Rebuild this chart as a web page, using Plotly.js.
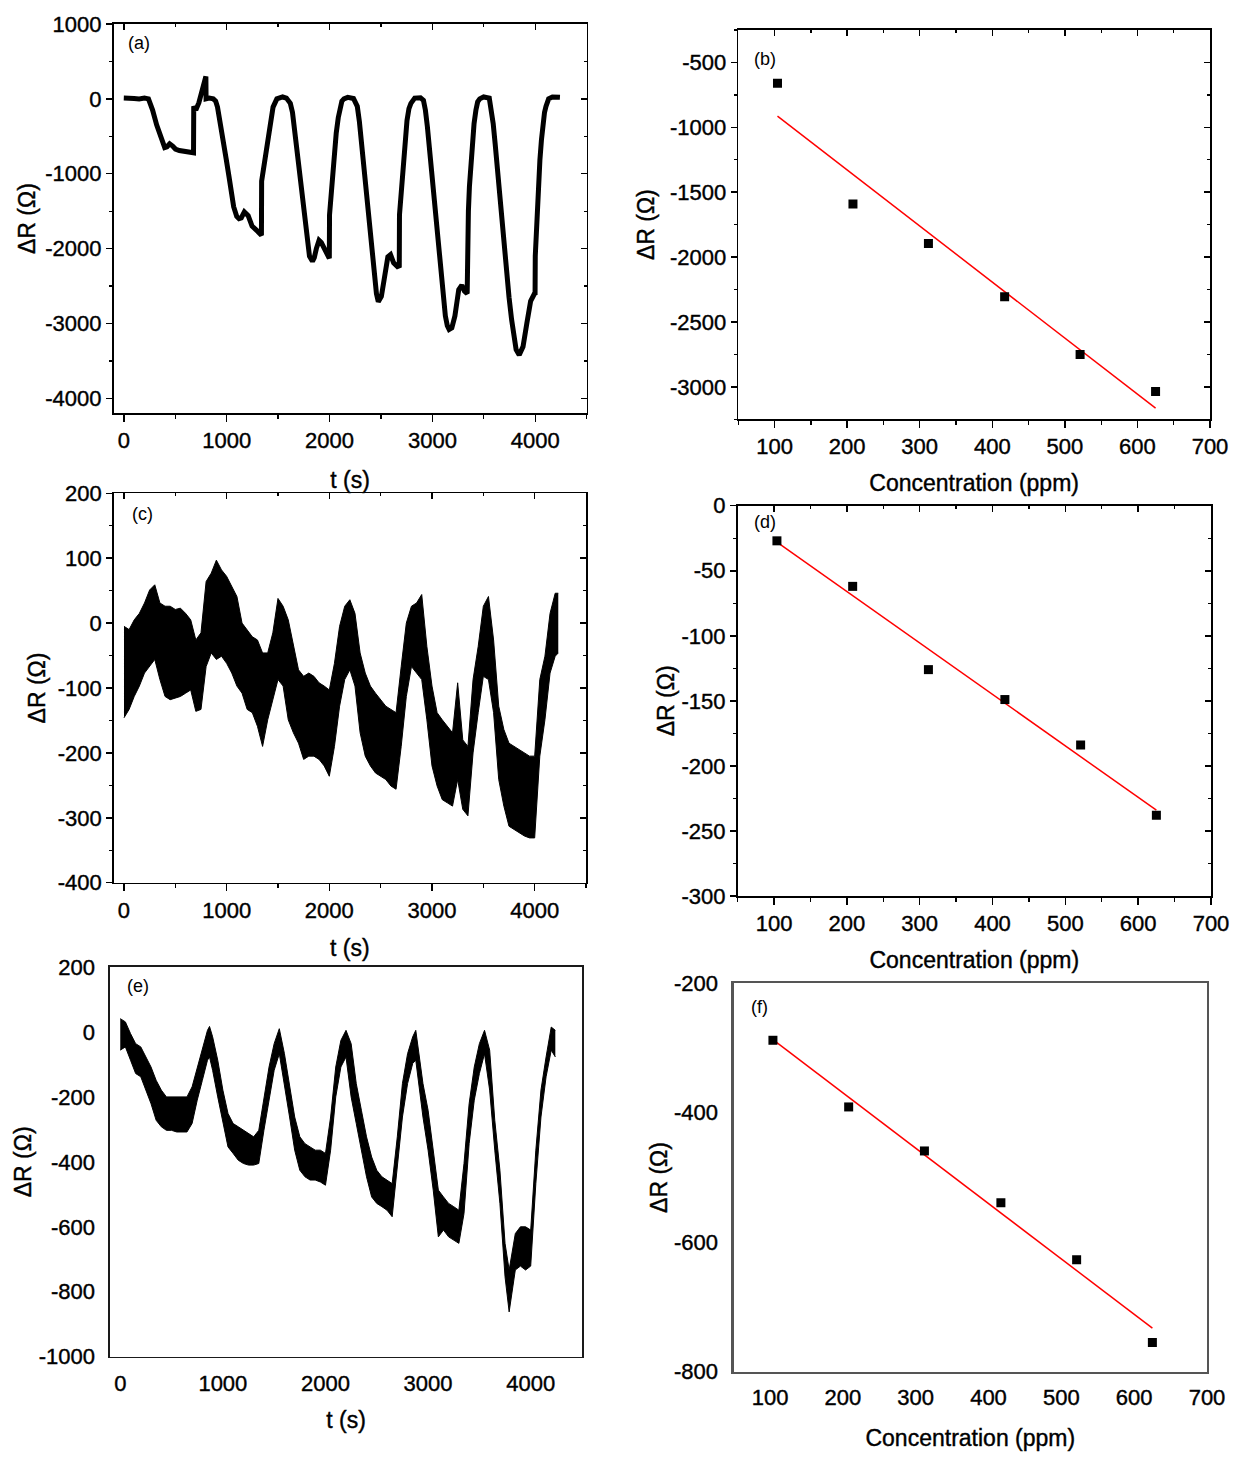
<!DOCTYPE html>
<html>
<head>
<meta charset="utf-8">
<script src="https://cdn.plot.ly/plotly-3.0.1.min.js"></script>
<style>
html,body{margin:0;padding:0;background:#fff;}
#chart{width:1234px;height:1457px;}
#chart g[class$="tick"] text, #chart text[class*="title"]{stroke:#000;stroke-width:0.4px;}
</style>
</head>
<body>
<div id="chart"></div>
<script>
// ---------------- DATA ----------------
// Panel (a): response vs time
const tA = [0,50,100,150,200,240,280,320,372,398,420,446,475,502,540,600,650,678,680,700,730,760,798,800,830,870,893,911,940,967,995,1023,1045,1068,1098,1120,1142,1172,1209,1247,1302,1338,1340,1360,1377,1396,1414,1451,1488,1520,1544,1581,1619,1640,1656,1675,1693,1710,1730,1750,1767,1790,1805,1834,1852,1872,1898,1920,1946,1983,1998,2000,2015,2028,2046,2065,2085,2102,2120,2140,2177,2233,2270,2290,2307,2325,2344,2362,2381,2400,2419,2440,2456,2474,2504,2530,2550,2567,2593,2623,2660,2678,2680,2698,2716,2735,2753,2772,2791,2828,2884,2913,2932,2951,2973,2995,3018,3040,3064,3088,3107,3126,3145,3163,3189,3219,3240,3256,3286,3312,3338,3340,3350,3360,3373,3386,3405,3423,3440,3460,3498,3553,3572,3591,3610,3628,3650,3673,3697,3721,3745,3770,3792,3814,3844,3881,3918,3955,3993,3998,4000,4010,4019,4032,4045,4060,4074,4090,4104,4130,4167,4223,4240];
const dRa = [10,0,5,0,10,0,-150,-350,-580,-650,-640,-600,-630,-670,-690,-700,-705,-720,-100,-150,-50,100,300,0,10,0,-30,-110,-320,-550,-800,-1040,-1250,-1440,-1570,-1600,-1590,-1510,-1560,-1700,-1770,-1820,-1100,-900,-730,-540,-370,-110,0,25,25,10,-60,-180,-370,-570,-770,-1000,-1260,-1520,-1750,-1980,-2100,-2170,-2120,-2000,-1890,-1920,-1990,-2100,-2130,-1550,-1250,-1000,-720,-460,-250,-110,-30,0,20,5,-100,-300,-550,-800,-1040,-1300,-1570,-1820,-2060,-2350,-2600,-2710,-2640,-2420,-2250,-2110,-2080,-2190,-2240,-2230,-1550,-1200,-900,-580,-290,-130,-60,10,15,-20,-150,-370,-700,-1040,-1400,-1750,-2100,-2420,-2680,-2900,-3030,-3080,-3060,-2900,-2700,-2550,-2490,-2570,-2600,-1800,-1500,-1170,-850,-550,-330,-150,-40,0,25,10,-120,-330,-600,-900,-1250,-1620,-1980,-2330,-2650,-2950,-3180,-3350,-3420,-3310,-3000,-2700,-2600,-2620,-2100,-1750,-1440,-1100,-820,-550,-330,-180,-100,0,25,15,20];

// Panel (c): noisy response, read as upper / lower envelope of the trace
const tC = [0,50,100,150,200,250,300,350,400,450,500,550,600,650,700,750,800,850,900,950,1000,1050,1100,1150,1200,1250,1300,1350,1400,1450,1500,1550,1600,1650,1700,1750,1800,1850,1900,1950,2000,2050,2100,2150,2200,2250,2300,2350,2400,2450,2500,2550,2600,2650,2700,2750,2800,2850,2900,2950,3000,3050,3100,3150,3200,3250,3300,3350,3400,3450,3500,3550,3600,3650,3700,3750,3800,3850,3900,3950,4000,4050,4100,4150,4200,4230];
const dRcUpper = [-5,-10,5,15,31,51,59,31,26,26,21,23,15,5,-26,-15,64,77,97,82,72,56,41,0,-10,-21,-26,-46,-46,-15,38,26,5,-31,-72,-82,-77,-82,-92,-97,-103,-62,-5,26,36,15,-46,-77,-97,-108,-118,-128,-133,-138,-67,0,26,31,44,-36,-97,-138,-149,-159,-169,-92,-180,-190,-87,-36,26,41,-26,-128,-164,-185,-190,-195,-200,-205,-205,-87,-51,15,46,46];
const dRcLower = [-146,-133,-113,-97,-77,-67,-56,-87,-113,-118,-115,-113,-108,-103,-136,-133,-67,-46,-56,-51,-62,-77,-97,-108,-133,-138,-159,-190,-149,-118,-87,-97,-149,-169,-185,-210,-205,-205,-210,-220,-236,-190,-128,-87,-72,-97,-169,-205,-220,-231,-236,-241,-251,-256,-190,-113,-67,-77,-87,-149,-220,-251,-272,-277,-282,-241,-287,-297,-200,-138,-82,-87,-138,-241,-282,-313,-318,-323,-328,-331,-331,-205,-149,-77,-51,-46];

// Panel (e): noisy response, upper / lower envelope
const tE = [0,50,100,150,200,250,300,350,400,450,500,550,600,650,700,750,800,850,870,900,950,1000,1050,1100,1150,1200,1250,1300,1350,1400,1450,1500,1550,1600,1650,1700,1750,1800,1850,1900,1950,2000,2050,2100,2150,2200,2250,2300,2350,2400,2450,2500,2550,2600,2650,2700,2750,2800,2850,2880,2950,3000,3050,3100,3150,3200,3250,3300,3350,3400,3450,3500,3550,3600,3650,3700,3750,3790,3850,3900,3950,4000,4050,4100,4150,4200,4240];
const dReUpper = [41,31,-5,-36,-46,-77,-108,-149,-179,-200,-200,-200,-200,-200,-169,-108,-56,5,17,-15,-87,-179,-251,-282,-292,-303,-313,-323,-303,-200,-108,-36,10,-67,-159,-262,-323,-344,-354,-364,-364,-374,-262,-108,-26,5,-36,-159,-241,-323,-385,-426,-446,-456,-467,-323,-159,-67,-15,5,-159,-241,-364,-487,-508,-528,-538,-549,-405,-221,-108,-36,5,-56,-272,-426,-651,-733,-621,-600,-600,-610,-364,-179,-77,15,5];
const dReLower = [-56,-46,-87,-128,-138,-179,-221,-272,-292,-303,-303,-308,-308,-308,-282,-210,-149,-87,-77,-118,-200,-282,-354,-374,-395,-405,-410,-410,-405,-303,-210,-118,-67,-159,-262,-364,-426,-446,-456,-456,-462,-472,-364,-200,-108,-77,-200,-282,-364,-446,-508,-528,-538,-549,-569,-426,-262,-159,-97,-87,-262,-364,-487,-631,-610,-631,-641,-651,-559,-344,-210,-128,-67,-179,-364,-528,-754,-862,-733,-721,-733,-721,-467,-262,-138,-56,-77];

// Calibration panels (b), (d), (f)
const conc = [104, 208, 312, 417, 521, 625];
const dRb = [-660, -1590, -1895, -2305, -2750, -3035];
const dRd = [-27, -62, -126, -149, -184, -238];
const dRf = [-288, -391, -459, -539, -627, -755];

// Tick labels
const timeTickVals = [0, 1000, 2000, 3000, 4000];
const timeTickText = ['0', '1000', '2000', '3000', '4000'];
const concTickVals = [100, 200, 300, 400, 500, 600, 700];
const concTickText = ['100', '200', '300', '400', '500', '600', '700'];
const yTickValsA = [1000, 0, -1000, -2000, -3000, -4000];
const yTickTextA = ['1000', '0', '-1000', '-2000', '-3000', '-4000'];
const yTickValsB = [-500, -1000, -1500, -2000, -2500, -3000];
const yTickTextB = ['-500', '-1000', '-1500', '-2000', '-2500', '-3000'];
const yTickValsC = [200, 100, 0, -100, -200, -300, -400];
const yTickTextC = ['200', '100', '0', '-100', '-200', '-300', '-400'];
const yTickValsD = [0, -50, -100, -150, -200, -250, -300];
const yTickTextD = ['0', '-50', '-100', '-150', '-200', '-250', '-300'];
const yTickValsE = [200, 0, -200, -400, -600, -800, -1000];
const yTickTextE = ['200', '0', '-200', '-400', '-600', '-800', '-1000'];
const yTickValsF = [-200, -400, -600, -800];
const yTickTextF = ['-200', '-400', '-600', '-800'];

const panelLabels = ['(a)', '(b)', '(c)', '(d)', '(e)', '(f)'];
const xTitleTime = 't (s)';
const xTitleConc = 'Concentration (ppm)';
const yTitle = '\u0394R (\u03A9)';

// ---------------- LAYOUT HELPERS ----------------
const W = 1234, H = 1457;
const FONT = 'Liberation Sans, Arial, Helvetica, sans-serif';
function domX(l, r) { return [l / W, r / W]; }
function domY(t, b) { return [1 - b / H, 1 - t / H]; }

function linearFit(xs, ys) {
  const n = xs.length;
  let mx = 0, my = 0;
  for (let i = 0; i < n; i++) { mx += xs[i]; my += ys[i]; }
  mx /= n; my /= n;
  let sxy = 0, sxx = 0;
  for (let i = 0; i < n; i++) { sxy += (xs[i] - mx) * (ys[i] - my); sxx += (xs[i] - mx) * (xs[i] - mx); }
  const b = sxy / sxx, a = my - b * mx;
  const x0 = xs[0], x1 = xs[n - 1];
  return { x: [x0, x1], y: [a + b * x0, a + b * x1] };
}

// panel geometry / style specs
const panels = [
  { box: [113.5, 586.7, 24, 413.3], xr: [-100, 4500], yr: [-4200, 1000], xv: timeTickVals, xt: timeTickText, xm: 500,
    yv: yTickValsA, yt: yTickTextA, ym: 500, xTitle: xTitleTime, framed: true, ySt: 3, xSt: 19, lab: [138.7, 42.7] },
  { box: [738.3, 1210, 30, 419.3], xr: [50, 700], yr: [-3250, -250], xv: concTickVals, xt: concTickText, xm: 50,
    yv: yTickValsB, yt: yTickTextB, ym: 250, xTitle: xTitleConc, framed: true, ySt: 9, xSt: 16, lab: [765, 59.3] },
  { box: [113.7, 586, 493.3, 882.7], xr: [-100, 4500], yr: [-400, 200], xv: timeTickVals, xt: timeTickText, xm: 500,
    yv: yTickValsC, yt: yTickTextC, ym: 50, xTitle: xTitleTime, framed: true, ySt: 5, xSt: 18, lab: [142, 514] },
  { box: [737.6, 1211, 505.7, 896], xr: [50, 700], yr: [-300, 0], xv: concTickVals, xt: concTickText, xm: 50,
    yv: yTickValsD, yt: yTickTextD, ym: 25, xTitle: xTitleConc, framed: true, ySt: 0, xSt: 17, lab: [765, 521.7] },
  { box: [110, 582, 967, 1356.7], xr: [-100, 4500], yr: [-1000, 200], xv: timeTickVals, xt: timeTickText, xm: null,
    yv: yTickValsE, yt: yTickTextE, ym: null, xTitle: xTitleTime, framed: false, ySt: 0, xSt: 17, xtl: 6, lab: [138, 986],
    lineColor: '#1a1a1a', lineWidth: 1.6 },
  { box: [733.6, 1207, 983.3, 1371.7], xr: [50, 700], yr: [-800, -200], xv: concTickVals, xt: concTickText, xm: null,
    yv: yTickValsF, yt: yTickTextF, ym: null, xTitle: xTitleConc, framed: false, ySt: 0, xSt: 21, xtl: 5, lab: [759, 1007],
    lineColor: '#555555', lineWidth: 2.2 }
];

const layout = {
  width: W, height: H,
  margin: { l: 0, r: 0, t: 0, b: 0 },
  paper_bgcolor: '#ffffff', plot_bgcolor: '#ffffff',
  showlegend: false,
  font: { family: FONT, color: '#000000' },
  annotations: []
};
const traces = [];

panels.forEach((p, i) => {
  const n = i + 1;
  const xid = n === 1 ? 'x' : 'x' + n;
  const yid = n === 1 ? 'y' : 'y' + n;
  const xkey = n === 1 ? 'xaxis' : 'xaxis' + n;
  const ykey = n === 1 ? 'yaxis' : 'yaxis' + n;
  const lc = p.lineColor || '#000000';
  const lw = p.lineWidth || 1.6;
  const tickFont = { family: FONT, size: 22, color: '#000000' };
  const titleFont = { family: FONT, size: 23, color: '#000000' };

  const xa = {
    domain: domX(p.box[0], p.box[1]), anchor: yid, range: p.xr, autorange: false,
    tickmode: 'array', tickvals: p.xv, ticktext: p.xt, tickfont: tickFont,
    showline: true, linecolor: lc, linewidth: lw, mirror: true,
    showgrid: false, zeroline: false, fixedrange: true,
    title: { text: p.xTitle, font: titleFont, standoff: p.xSt }
  };
  const ya = {
    domain: domY(p.box[2], p.box[3]), anchor: xid, range: p.yr, autorange: false,
    tickmode: 'array', tickvals: p.yv, ticktext: p.yt, tickfont: tickFont,
    showline: true, linecolor: lc, linewidth: lw, mirror: true,
    showgrid: false, zeroline: false, fixedrange: true,
    title: { text: yTitle, font: titleFont, standoff: p.ySt }
  };
  if (p.framed) {
    Object.assign(xa, { ticks: 'outside', ticklen: 7, tickwidth: 1.5, tickcolor: '#000',
      minor: { tickmode: 'linear', tick0: 0, dtick: p.xm, ticks: 'outside', ticklen: 4, tickwidth: 1.3, tickcolor: '#000' } });
    Object.assign(ya, { ticks: 'outside', ticklen: 6, tickwidth: 1.5, tickcolor: '#000',
      minor: { tickmode: 'linear', tick0: 0, dtick: p.ym, ticks: 'outside', ticklen: 3, tickwidth: 1.3, tickcolor: '#000' } });
  } else {
    Object.assign(xa, { ticks: 'outside', ticklen: p.xtl, tickcolor: 'rgba(0,0,0,0)' });
    Object.assign(ya, { ticks: 'outside', ticklen: 9, tickcolor: 'rgba(0,0,0,0)' });
  }
  layout[xkey] = xa;
  layout[ykey] = ya;

  if (p.framed) {
    // inward-pointing ticks on the top and right sides
    const on = n + 6;
    layout['xaxis' + on] = {
      overlaying: xid, anchor: yid, side: 'top', range: p.xr, autorange: false,
      tickmode: 'array', tickvals: p.xv, showticklabels: false,
      ticks: 'inside', ticklen: 6, tickwidth: 1.5, tickcolor: '#000',
      minor: { tickmode: 'linear', tick0: 0, dtick: p.xm, ticks: 'inside', ticklen: 3, tickwidth: 1.3, tickcolor: '#000' },
      showline: false, showgrid: false, zeroline: false, fixedrange: true
    };
    layout['yaxis' + on] = {
      overlaying: yid, anchor: xid, side: 'right', range: p.yr, autorange: false,
      tickmode: 'array', tickvals: p.yv, showticklabels: false,
      ticks: 'inside', ticklen: 6, tickwidth: 1.5, tickcolor: '#000',
      minor: { tickmode: 'linear', tick0: 0, dtick: p.ym, ticks: 'inside', ticklen: 3, tickwidth: 1.3, tickcolor: '#000' },
      showline: false, showgrid: false, zeroline: false, fixedrange: true
    };
    traces.push({ type: 'scatter', mode: 'lines', x: [], y: [], xaxis: 'x' + on, yaxis: 'y' + on, hoverinfo: 'skip' });
  }

  layout.annotations.push({
    text: panelLabels[i], xref: 'paper', yref: 'paper',
    x: p.lab[0] / W, y: 1 - p.lab[1] / H, xanchor: 'center', yanchor: 'middle',
    showarrow: false, font: { family: FONT, size: 18, color: '#000' }
  });
});

// (a) response curve
traces.push({ type: 'scatter', mode: 'lines', x: tA, y: dRa, xaxis: 'x', yaxis: 'y',
  line: { color: '#000', width: 5 }, name: '(a)' });

// (c) noisy band
traces.push({ type: 'scatter', mode: 'lines', x: tC, y: dRcLower, xaxis: 'x3', yaxis: 'y3',
  line: { color: '#000', width: 1 }, name: '(c) low' });
traces.push({ type: 'scatter', mode: 'lines', x: tC, y: dRcUpper, xaxis: 'x3', yaxis: 'y3',
  line: { color: '#000', width: 1 }, fill: 'tonexty', fillcolor: '#000', name: '(c) high' });

// (e) noisy band
traces.push({ type: 'scatter', mode: 'lines', x: tE, y: dReLower, xaxis: 'x5', yaxis: 'y5',
  line: { color: '#000', width: 1 }, name: '(e) low' });
traces.push({ type: 'scatter', mode: 'lines', x: tE, y: dReUpper, xaxis: 'x5', yaxis: 'y5',
  line: { color: '#000', width: 1 }, fill: 'tonexty', fillcolor: '#000', name: '(e) high' });

// calibration panels
[[dRb, 'x2', 'y2'], [dRd, 'x4', 'y4'], [dRf, 'x6', 'y6']].forEach(([ys, xa, ya]) => {
  const f = linearFit(conc, ys);
  traces.push({ type: 'scatter', mode: 'lines', x: f.x, y: f.y, xaxis: xa, yaxis: ya,
    line: { color: '#ff0000', width: 1.5 }, name: 'fit' });
  traces.push({ type: 'scatter', mode: 'markers', x: conc, y: ys, xaxis: xa, yaxis: ya,
    marker: { symbol: 'square', size: 9, color: '#000' }, name: 'data' });
});

Plotly.newPlot('chart', traces, layout, { staticPlot: true, displayModeBar: false });
</script>
</body>
</html>
